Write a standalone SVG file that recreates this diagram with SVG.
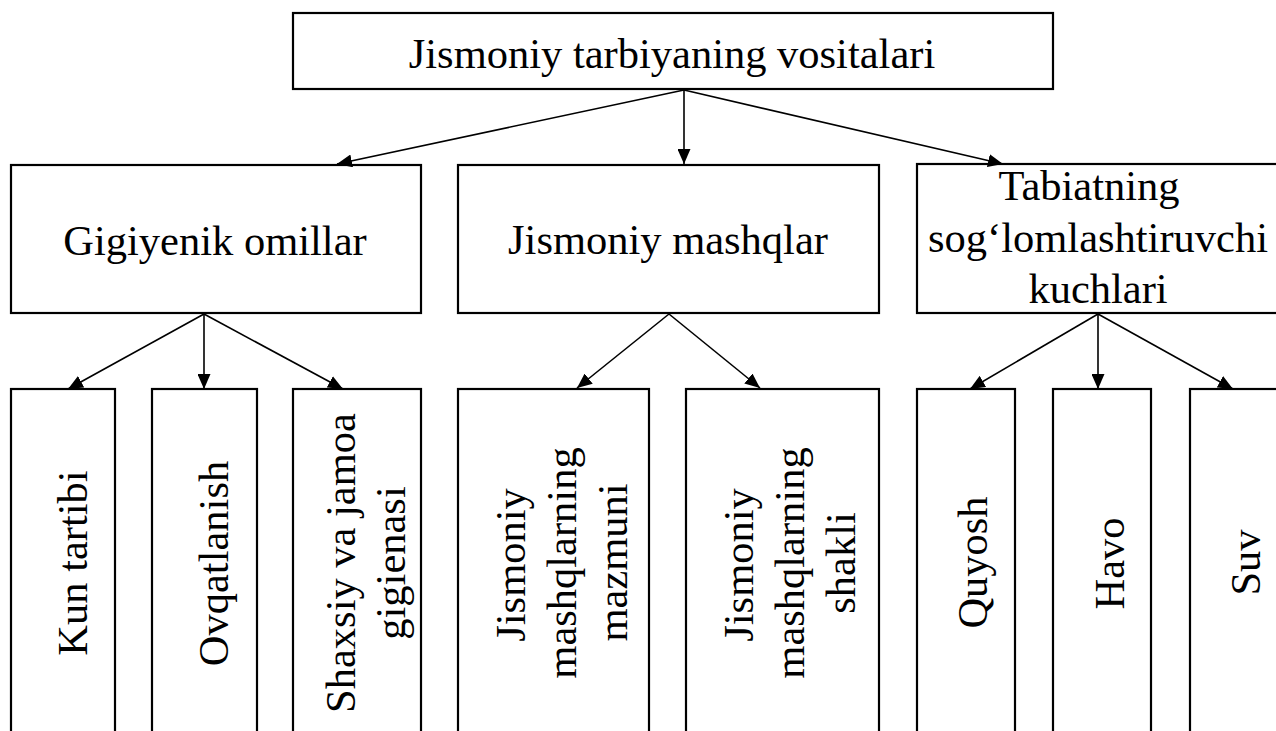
<svg xmlns="http://www.w3.org/2000/svg" width="1276" height="731" viewBox="0 0 1276 731">
  <style>
    .box { fill: #ffffff; stroke: #000000; stroke-width: 2.2; }
    .lbl { font-family: "Liberation Serif", "Times New Roman", serif; font-size: 42.5px; fill: #000000; text-anchor: middle; }
    .edge { stroke: #000000; stroke-width: 1.6; fill: none; marker-end: url(#arrow); }
  </style>
  <defs>
    <marker id="arrow" markerWidth="15" markerHeight="13" refX="15" refY="6.5" orient="auto" markerUnits="userSpaceOnUse">
      <path d="M0,0 L15,6.5 L0,13 Z" fill="#000000"/>
    </marker>
  </defs>
  <rect width="1276" height="731" fill="#ffffff"/>

  <!-- root -->
  <g id="root">
    <rect class="box" x="293" y="13" width="760" height="76"/>
    <text class="lbl" x="672" y="68">Jismoniy tarbiyaning vositalari</text>
  </g>

  <!-- second level -->
  <g id="gigiyenik">
    <rect class="box" x="11" y="165" width="410" height="148"/>
    <text class="lbl" x="215" y="255">Gigiyenik omillar</text>
  </g>
  <g id="mashqlar">
    <rect class="box" x="458" y="165" width="421" height="148"/>
    <text class="lbl" x="668" y="254">Jismoniy mashqlar</text>
  </g>
  <g id="tabiat">
    <rect class="box" x="917" y="164" width="363" height="149"/>
    <text class="lbl" x="1089" y="200">Tabiatning</text>
    <text class="lbl" x="1098" y="251.5">sog‘lomlashtiruvchi</text>
    <text class="lbl" x="1098" y="303">kuchlari</text>
  </g>

  <!-- third level (vertical labels) -->
  <g id="kun">
    <rect class="box" x="11" y="389" width="104" height="360"/>
    <text class="lbl" transform="translate(87 563) rotate(-90)">Kun tartibi</text>
  </g>
  <g id="ovqat">
    <rect class="box" x="152" y="389" width="105" height="360"/>
    <text class="lbl" transform="translate(228 563.5) rotate(-90)">Ovqatlanish</text>
  </g>
  <g id="shaxsiy">
    <rect class="box" x="293" y="389" width="128" height="360"/>
    <text class="lbl" transform="translate(355 563) rotate(-90)">Shaxsiy va jamoa</text>
    <text class="lbl" transform="translate(405 563) rotate(-90)">gigienasi</text>
  </g>
  <g id="mazmuni">
    <rect class="box" x="458" y="389" width="191" height="360"/>
    <text class="lbl" transform="translate(525 565) rotate(-90)">Jismoniy</text>
    <text class="lbl" transform="translate(576 563) rotate(-90)">mashqlarning</text>
    <text class="lbl" transform="translate(627 562.5) rotate(-90)">mazmuni</text>
  </g>
  <g id="shakli">
    <rect class="box" x="686" y="389" width="193" height="360"/>
    <text class="lbl" transform="translate(753 565) rotate(-90)">Jismoniy</text>
    <text class="lbl" transform="translate(804 563) rotate(-90)">mashqlarning</text>
    <text class="lbl" transform="translate(855 563) rotate(-90)">shakli</text>
  </g>
  <g id="quyosh">
    <rect class="box" x="917" y="389" width="98" height="360"/>
    <text class="lbl" transform="translate(987 562.5) rotate(-90)">Quyosh</text>
  </g>
  <g id="havo">
    <rect class="box" x="1053" y="389" width="98" height="360"/>
    <text class="lbl" transform="translate(1124 563.5) rotate(-90)">Havo</text>
  </g>
  <g id="suv">
    <rect class="box" x="1190" y="389" width="110" height="360"/>
    <text class="lbl" transform="translate(1260 562.5) rotate(-90)">Suv</text>
  </g>

  <!-- connectors -->
  <g id="connectors">
    <line class="edge" x1="684" y1="90" x2="337" y2="164"/>
    <line class="edge" x1="684" y1="90" x2="684" y2="164"/>
    <line class="edge" x1="684" y1="90" x2="1003" y2="164"/>

    <line class="edge" x1="204" y1="314" x2="68" y2="389"/>
    <line class="edge" x1="204" y1="314" x2="204" y2="389"/>
    <line class="edge" x1="204" y1="314" x2="343" y2="389"/>

    <line class="edge" x1="669" y1="314" x2="577" y2="388"/>
    <line class="edge" x1="669" y1="314" x2="760" y2="388"/>

    <line class="edge" x1="1098" y1="314" x2="970" y2="389"/>
    <line class="edge" x1="1098" y1="314" x2="1098" y2="389"/>
    <line class="edge" x1="1098" y1="314" x2="1233" y2="389"/>
  </g>
</svg>
